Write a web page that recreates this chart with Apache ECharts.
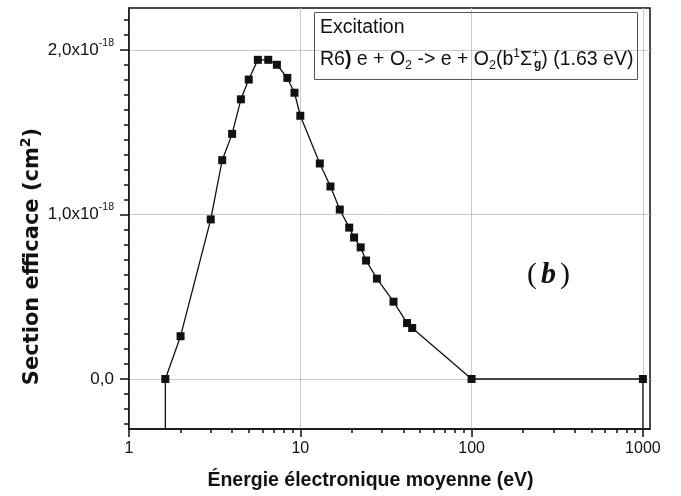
<!DOCTYPE html>
<html>
<head>
<meta charset="utf-8">
<script src="https://cdn.jsdelivr.net/npm/echarts@6/dist/echarts.min.js"></script>
<style>
  html, body { margin: 0; padding: 0; background: #fff; }
  #chart { width: 681px; height: 496px; }
</style>
</head>
<body>
<div id="chart"></div>
<script>
// energie (eV) / section efficace (unite : 1e-18 cm2)
var energy = [1.63, 2.0, 3.0, 3.5, 4.0, 4.5, 5.0, 5.65, 6.5, 7.3, 8.4, 9.25, 10, 13, 15, 17, 19.3, 20.6, 22.5, 24.2, 28, 35, 42, 45, 100, 1000];
var sigma = [0, 0.26, 0.97, 1.33, 1.49, 1.70, 1.82, 1.94, 1.94, 1.91, 1.83, 1.74, 1.60, 1.31, 1.17, 1.03, 0.92, 0.86, 0.80, 0.72, 0.61, 0.47, 0.34, 0.31, 0, 0];

var xTicks = [1, 10, 100, 1000];
var xMinorTicks = [2, 3, 4, 5, 6, 7, 8, 9, 20, 30, 40, 50, 60, 70, 80, 90, 200, 300, 400, 500, 600, 700, 800, 900];
var yTicks = [0, 1, 2];
var yMin = -0.304, yMax = 2.255;
var xMin = 1, xMax = 1100;

// 11 sous-intervalles entre graduations majeures (comme sur l'original)
var yMinorTicks = [];
for (var k = -3; k <= 24; k++) {
  if (k % 11 !== 0) yMinorTicks.push(k / 11);
}

var FONT = "'Liberation Sans', Arial, sans-serif";
var FONT_WIDE = "'DejaVu Sans', 'Liberation Sans', sans-serif";
var INK = '#111';

var chart = echarts.init(document.getElementById('chart'));

// chute verticale aux deux extremites jusqu'a l'axe
var lineData = [{ value: [energy[0], yMin], symbol: 'none' }];
energy.forEach(function (e, i) { lineData.push([e, sigma[i]]); });
lineData.push({ value: [energy[energy.length - 1], yMin], symbol: 'none' });

// exposant / indice : decalage par padding asymetrique
function sup(size, shift, bold, family) {
  return { fontFamily: family || FONT, fontSize: size, color: INK, fontWeight: bold ? 'bold' : 'normal', padding: [0, 0, shift * 2, 0] };
}
function sub(size, shift, bold) {
  return { fontFamily: FONT, fontSize: size, color: INK, fontWeight: bold ? 'bold' : 'normal', padding: [shift * 2, 0, 0, 0] };
}

var spStyle = sup(12, 6);
spStyle.width = 2;

var option = {
  animation: false,
  grid: {
    left: 129, right: 31, top: 8, bottom: 67,
    show: true, borderColor: INK, borderWidth: 1.5,
    outerBoundsMode: 'none'
  },
  title: {
    left: 314, top: 12,
    text: 'Excitation\nR6{bp|)} e + O{sub|2} -> e + O{sub|2}(b{sup|1}Σ{sp|+}{sb|g}) (1.63 eV)',
    padding: [0, 4, 4, 6],
    borderColor: '#555', borderWidth: 1,
    textStyle: {
      fontFamily: FONT, fontSize: 19.5, fontWeight: 'normal', color: INK, lineHeight: 32,
      rich: {
        bp: { fontFamily: FONT, fontSize: 19.5, fontWeight: 'bold', color: INK },
        sub: sub(12.5, 6),
        sup: sup(12, 6),
        sp: spStyle,
        sb: sub(12, 5, true)
      }
    }
  },
  graphic: [{
    type: 'text', left: 527, top: 260,
    style: {
      text: '({b|b})',
      fontFamily: "'Liberation Serif', serif", fontSize: 30, fill: INK,
      rich: { b: { fontFamily: "'Liberation Serif', serif", fontSize: 30, fontStyle: 'italic', fontWeight: 'bold', color: INK, padding: [0, 4, 0, 4] } }
    }
  }],
  xAxis: [{
    type: 'log', logBase: 10, min: xMin, max: xMax, position: 'bottom',
    name: 'Énergie électronique moyenne (eV)', nameLocation: 'middle', nameGap: 42,
    nameMoveOverlap: false,
    nameTextStyle: { fontFamily: FONT, fontSize: 19.5, fontWeight: 'bold', color: INK, padding: [0, 38, 0, 0] },
    axisLine: { onZero: false, lineStyle: { color: INK, width: 1.5 } },
    axisTick: { customValues: xTicks, length: 8, lineStyle: { color: INK, width: 1.5 } },
    axisLabel: {
      customValues: xTicks, fontFamily: FONT, fontSize: 16, color: INK, margin: 12,
      formatter: function (v) { return String(Math.round(v)); }
    },
    splitLine: { show: true, lineStyle: { color: '#c8c8c8', width: 1 } },
    minorTick: { show: false }
  }, {
    type: 'log', logBase: 10, min: xMin, max: xMax, position: 'bottom',
    axisLine: { show: false, onZero: false },
    axisTick: { customValues: xMinorTicks, length: 4, lineStyle: { color: INK, width: 1.5 } },
    axisLabel: { show: false },
    splitLine: { show: false }
  }],
  yAxis: [{
    type: 'value', min: yMin, max: yMax, position: 'left',
    name: 'Section efficace (cm{sup|2})', nameLocation: 'middle', nameGap: 83, nameRotate: 90,
    nameMoveOverlap: false,
    nameTextStyle: {
      fontFamily: FONT_WIDE, fontSize: 21, fontWeight: 'bold', color: INK, lineHeight: 26, padding: [0, 76, 0, 0],
      rich: { sup: sup(14, 7, true, FONT_WIDE) }
    },
    axisLine: { onZero: false, lineStyle: { color: INK, width: 1.5 } },
    axisTick: { customValues: yTicks, length: 9, lineStyle: { color: INK, width: 1.5 } },
    axisLabel: {
      customValues: yTicks, fontFamily: FONT, fontSize: 17, color: INK, margin: 15, lineHeight: 20,
      formatter: function (v) {
        if (Math.abs(v) < 1e-9) return '0,0';
        return v.toFixed(1).replace('.', ',') + 'x10{sup|-18}';
      },
      rich: { sup: sup(10.5, 7) }
    },
    splitLine: { show: true, lineStyle: { color: '#c8c8c8', width: 1 } }
  }, {
    type: 'value', min: yMin, max: yMax, position: 'left',
    axisLine: { show: false, onZero: false },
    axisTick: { customValues: yMinorTicks, length: 5, lineStyle: { color: INK, width: 1.5 } },
    axisLabel: { show: false },
    splitLine: { show: false }
  }],
  series: [{
    type: 'line',
    xAxisIndex: 0, yAxisIndex: 0,
    data: lineData,
    symbol: 'rect', symbolSize: 8,
    lineStyle: { color: INK, width: 1.3 },
    itemStyle: { color: INK },
    clip: true
  }]
};

chart.setOption(option);
window.addEventListener('resize', function () { chart.resize(); });
</script>
</body>
</html>
